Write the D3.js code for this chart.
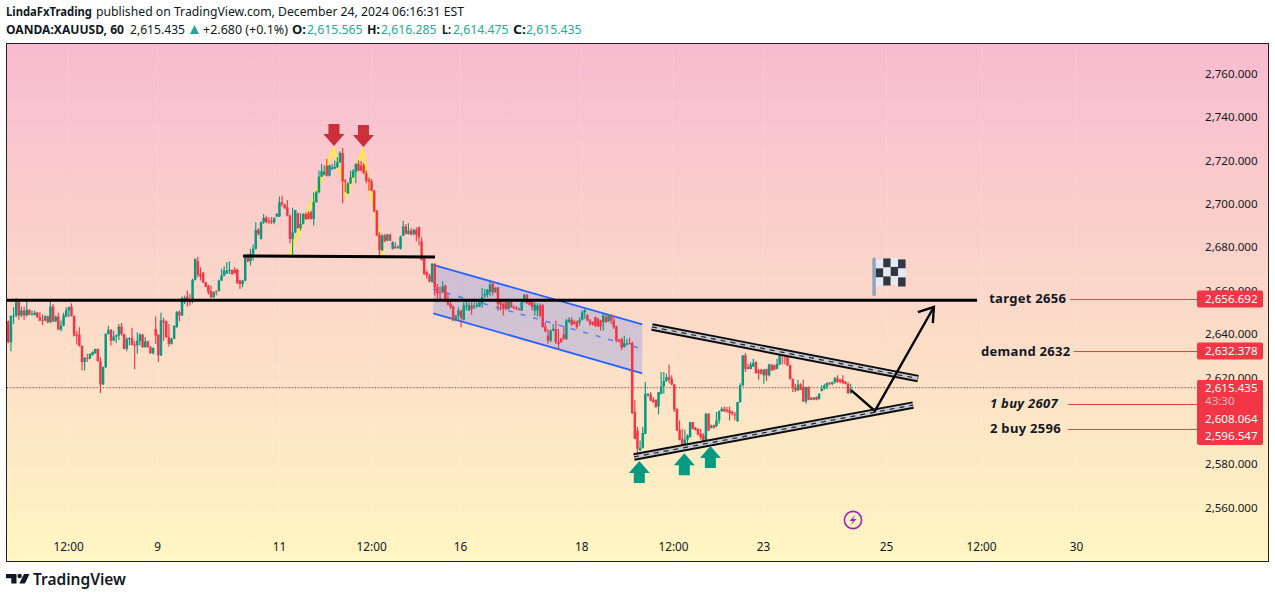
<!DOCTYPE html>
<html><head><meta charset="utf-8">
<script src="https://cdn.jsdelivr.net/npm/d3@7"></script>
<style>html,body{margin:0;padding:0;background:#fff}svg{display:block}text{font-family:"Noto Sans",sans-serif}</style>
</head><body><svg id="c" width="1275" height="598"></svg>
<script>
const opens=[2645.8,2636.2,2648.1,2648.5,2654.6,2648.5,2650.8,2648.5,2651.1,2648.9,2648.8,2649.8,2647.7,2646.5,2646.2,2648,2645.4,2652.6,2645.8,2648,2642,2643.8,2648,2650.8,2652.6,2648.3,2639.4,2639.7,2634.5,2627,2629,2628.6,2630.3,2631.1,2633.1,2627.4,2616.7,2624.7,2640,2641.9,2636.9,2638.8,2639.2,2643.4,2640,2633.1,2637.7,2638,2635.1,2634.8,2636.6,2639.7,2633.9,2636.6,2633.9,2631.1,2642.3,2639.7,2630,2646.2,2645.8,2638.5,2635.4,2637.7,2643.1,2650,2648.5,2654.6,2657.2,2655.4,2655.1,
2664.9,2673.5,2667.6,2668.3,2663.8,2662.3,2659.7,2656.9,2659.7,2659.7,2664.6,2666.9,2667.9,2669.2,2669.5,2669.5,2669.6,2664.6,2663,2664.6,2675.6,2673.5,2676.9,2679.2,2687.9,2683.8,2691.5,2693.5,2692.2,2692,2691.5,2694.1,2694.1,2700.7,2699.6,2698.4,2694.5,2683.8,2686.8,2695.6,2688.8,2690.7,2695.3,2695.6,2696.1,2693,2700.7,2705.3,2712.5,2713.4,2717.6,2712.9,2715.9,2716.2,2716.8,2719.1,2723.4,2710.6,2704.8,2709.4,2712.2,2714.5,2718.3,2717.6,2717.6,2714,2711,2710.3,2706,2696.8,2685.6,2678.7,2685.3,2683,2685.8,2679.2,2680.2,2679.6,2679.2,2685.3,2689.5,2686.1,2687.6,2686.1,2687.9,2689.2,2682.7,2674.6,
2668.4,2666.9,2663.8,2672.3,2661.5,2659.2,2659.2,2662.3,2656.1,2653.8,2652.6,2646.5,2648.5,2650.8,2646.5,2653.1,2650.8,2653.1,2652.4,2652.9,2652.6,2654.1,2657.7,2658,2659.2,2663,2659.2,2661.5,2655.7,2653.8,2654.6,2651.5,2654.6,2652.3,2651.8,2651.4,2650.8,2654.6,2658,2655.1,2654.6,2650.8,2650.8,2653.1,2653.1,2643.4,2639.2,2636.9,2641.5,2642.3,2636.2,2637.7,2639.7,2637.7,2645.4,2646.5,2645.7,2645.7,2645.4,2646.5,2650,2648.5,2646.2,2645.4,2647.7,2646.9,2646.2,2645.4,2647.7,2645.8,2648.5,2646.2,2643.4,2637.2,2637.7,2633.9,2635.2,2635.7,2635.8,
2604,2595.5,2586.3,2587.5,2594,2611.7,2612.1,2609.7,2609.7,2606.6,2612.4,2615.8,2618.3,2620.1,2619.3,2616.7,2605.5,2595.8,2591.7,2587.1,2591.2,2592.5,2599.4,2596.8,2596.3,2594,2593.2,2590.2,2603.2,2596.8,2597.8,2597.4,2600.1,2604.4,2605.5,2605.1,2604.7,2604,2602.9,2599.8,2608.6,2616.3,2630.1,2624.7,2623.9,2625,2627,2623.2,2623.5,2620.9,2623.9,2620.9,2625.9,2625.5,2623.9,2625.9,2631.6,2630.9,2630.1,2625.5,2619.3,2615.5,2614,2616.7,2615.5,2608.9,2615.5,2610.6,2609.7,2610.9,2610.1,2613.7,2614.7,2615.8,2617.3,2617,2617.8,2619.6,2618.9,2618.9,2617.8,2617,2612.7];
const closes=[2636.2,2648.3,2648.5,2654.6,2648.5,2650.8,2648.5,2651.1,2648.9,2649.2,2649.8,2647.7,2646.2,2646.2,2648.3,2645.4,2652.6,2645.8,2648,2642,2643.8,2648.5,2650.8,2652.3,2648.3,2639.2,2639.2,2634.5,2627,2629,2628.6,2630.8,2631.7,2633.1,2627.4,2616.7,2624.7,2640,2641.9,2636.9,2638.8,2639.4,2643.4,2640,2633.1,2637.7,2638,2634.9,2634.8,2636.9,2639.7,2633.9,2636.6,2633.9,2631.1,2633.6,2639.2,2630.2,2646.2,2645.4,2638.5,2635.4,2637.7,2643.8,2650,2648.5,2656.6,2656.6,2655.1,2654.6,2664.9,
2674.6,2667.3,2666.4,2663.8,2661.8,2659.2,2656.9,2659.2,2659.3,2664.6,2666.9,2669.2,2669.2,2669.5,2667.6,2667.9,2663.5,2663,2664.6,2675.6,2673.5,2676.9,2679.2,2687.9,2686.1,2691.5,2693.5,2691.5,2691.8,2691.8,2693.5,2695.3,2700.7,2699.6,2698.1,2694.5,2683.8,2686.8,2697.1,2688.8,2690.7,2695.3,2693,2693,2693,2700.7,2705.3,2712.5,2715,2714.8,2712.9,2717.6,2716.8,2717.1,2719.1,2723.4,2710.3,2710.3,2709.4,2712.2,2715,2718.3,2715.3,2715.3,2714,2710.6,2710.2,2706,2696.5,2685.3,2678.7,2685.3,2682.7,2685.8,2683,2682.2,2679.5,2680.2,2684.8,2689.5,2686.1,2687.6,2685.8,2687.9,2685.6,2684.5,2674.1,2667.6,
2666.9,2664.3,2672.3,2661.5,2658.7,2658.9,2661.8,2655.8,2653.5,2652.3,2646.2,2648.5,2650.8,2647.4,2653.1,2653.4,2653.1,2651.5,2652.8,2653.2,2654.6,2656.9,2658.4,2660.3,2662.7,2659.2,2661.2,2653.8,2653.5,2651.5,2651.5,2654.6,2652.3,2651.8,2651.4,2651.1,2654.6,2658,2654.1,2653.4,2652.3,2653.5,2653.1,2648.5,2643.1,2641.2,2636.9,2641.5,2642.3,2636.2,2635.4,2636.2,2637.7,2646.2,2646.5,2644.3,2644.6,2643.1,2646.5,2650,2650.8,2646.2,2644.6,2644.3,2643.8,2643.4,2643.4,2648.5,2645.4,2648.5,2646.2,2643.1,2636.9,2636.5,2633.6,2635.4,2635.6,2635.4,2603.5,
2591.7,2587.1,2587.5,2594.3,2612.4,2612.4,2609.4,2608.6,2606.3,2613.2,2615.8,2618.3,2620.1,2618.9,2616.7,2605.1,2595.5,2591.2,2587.1,2591.2,2593.2,2599.4,2596.3,2595.8,2593.7,2592.5,2590.2,2603.2,2595.5,2597.8,2596.8,2600.1,2604.4,2605.5,2604.4,2604.4,2603.5,2603.2,2602.4,2608.6,2616.3,2630.1,2623.9,2623.9,2625.9,2626.6,2621.9,2621.9,2621.6,2623.5,2620.9,2625.9,2623.2,2623.5,2626.2,2630.9,2630.1,2629.3,2625.5,2619.3,2615.2,2614,2616.7,2614.3,2608.9,2615.5,2609.7,2609.7,2610.6,2609.7,2612.4,2614.7,2616.3,2617.3,2617,2617.8,2619.6,2617.8,2618,2617.3,2617,2612.7,2614.7];
const highs=[2646.2,2648.5,2652.3,2656.6,2655.1,2652.6,2652.6,2654.8,2651.4,2650.8,2650.8,2650.1,2650,2648.9,2648.5,2648.5,2654.8,2653.8,2648.5,2649.8,2646.2,2649.8,2652.3,2652.6,2654.1,2648.5,2641.5,2643.1,2634.8,2629.3,2630.8,2631.1,2632,2633.2,2633.2,2629.3,2625,2640.3,2643.8,2642.3,2641.5,2639.7,2644.6,2645.1,2640,2638.5,2638.5,2642.8,2636.9,2640.8,2640.3,2640,2638.5,2636.9,2634.5,2633.6,2648,2639.7,2649.8,2647.4,2646.2,2644.6,2638.2,2643.8,2650.5,2650.8,2657.2,2657.7,2660,2658.4,2665.4,
2674.6,2675.6,2670.7,2668.3,2664,2662.6,2662.3,2659.5,2660,2664.9,2670,2671.2,2673,2673.5,2669.6,2670.7,2670,2664.9,2664.9,2676.1,2676.9,2679.2,2681.2,2691.5,2688.8,2691.8,2695.3,2694.5,2693.8,2693.8,2693.5,2695.6,2703.3,2703.7,2699.9,2701.7,2695,2698.1,2697.1,2695.9,2695.6,2695.6,2696.1,2696.5,2696.8,2705.3,2706,2715.3,2718.3,2717.6,2720.6,2718,2718.3,2719.9,2721.4,2724.2,2725.7,2711.4,2709.9,2715.3,2716,2718.6,2719.9,2719.6,2718.6,2715.3,2712.2,2711.4,2706.4,2697.1,2686.8,2686.1,2686.1,2686.1,2686.1,2682.7,2682.2,2680.7,2685.3,2692.2,2690.7,2691,2688.8,2688.4,2689.2,2689.5,2684.5,2675,
2669.2,2667.7,2672.6,2672.6,2663,2661.8,2664.3,2662.7,2658.4,2655.1,2653.1,2648.5,2652.3,2651.1,2654.6,2655.4,2654.6,2654.6,2654.6,2654.6,2654.6,2661.2,2660.7,2660.7,2664.6,2664.3,2661.5,2661.5,2656.1,2654.6,2655.1,2655.1,2655.1,2653.1,2652.8,2652.3,2655.1,2658.4,2658.4,2655.7,2655.1,2654.6,2654.1,2654.1,2653.8,2645.4,2642.3,2642,2644.6,2646.2,2642.3,2638.2,2643.8,2646.9,2647.7,2647.7,2646.5,2646.2,2647.7,2650.8,2651.5,2649.2,2646.9,2645.8,2648,2647.4,2646.5,2649.5,2648.9,2649.2,2648.9,2647.7,2643.8,2637.7,2638.2,2639.2,2637.7,2638.2,2636.5,
2609.4,2597.1,2590.9,2597.1,2617.8,2612.7,2613.2,2610.9,2609.7,2613.2,2622.4,2622.4,2621.6,2625.9,2620.9,2617,2605.5,2600.1,2596.3,2595.8,2593.7,2599.4,2599.4,2597.1,2596.3,2596.3,2594.3,2603.5,2603.5,2598.3,2598.3,2604,2604.7,2606.3,2606.6,2606.3,2606.6,2604.7,2604,2608.6,2617.3,2630.1,2631.2,2626.2,2627,2628.6,2627.5,2623.9,2623.9,2623.8,2623.9,2626.2,2625.9,2625.9,2628.6,2632.4,2632.7,2631.2,2630.4,2625.9,2619.3,2617,2618.9,2617.3,2618.9,2615.8,2615.8,2610.9,2610.9,2611.2,2612.7,2616.3,2617,2617.8,2617.8,2618.1,2620.1,2620.9,2619.3,2620.9,2618.3,2617.8,2617];
const lows=[2635.7,2632,2644.6,2647.7,2646.5,2647.7,2646.5,2648,2648.6,2648.5,2648.5,2647.4,2645.8,2644,2645.8,2644.9,2644.9,2645.4,2645.4,2641.9,2641.2,2643.5,2647.7,2647.7,2648,2638.8,2635.1,2634.2,2623.1,2623.1,2627,2628.3,2629.9,2630.8,2627.4,2612.7,2616.4,2624.3,2639.7,2634.6,2636.6,2635.7,2637.2,2639.2,2632.9,2632,2634.6,2634.6,2623.7,2630.8,2634.6,2633.6,2633.6,2633.6,2630.8,2630.5,2635.4,2627,2630,2636.9,2638.2,2634.2,2635.1,2637.6,2642.8,2645.8,2648.3,2653.8,2652.6,2653.1,2654.1,
2664.6,2666.1,2664.6,2663.5,2661.5,2658.1,2656.6,2656.6,2657.7,2659.7,2664.3,2666.4,2667.6,2667.6,2667.3,2667.9,2663,2660.7,2661.5,2664.3,2673,2671.5,2673.8,2678.9,2685.3,2683.5,2690.7,2691,2690.7,2690.7,2690.7,2693.8,2693.8,2698.7,2697.6,2694.2,2681.8,2675,2686.4,2688.4,2687.6,2690.4,2692.5,2692.7,2692.7,2689.9,2700.4,2704.8,2712.2,2713,2712.5,2712.5,2715.6,2715.9,2716.5,2718.8,2700.2,2705.3,2704.5,2709.1,2711.9,2709.4,2715,2715,2713.7,2709.4,2706,2705.7,2696.1,2685.3,2675,2678.1,2682.2,2682.7,2682.7,2678.9,2679.2,2679.2,2678.9,2685,2685.8,2685.8,2685.3,2685.3,2682.7,2680.7,2673.8,2667.3,
2665.4,2663.8,2663.7,2657.7,2654.6,2655.1,2658.7,2654.6,2653.1,2651.5,2645.8,2645.8,2646.5,2643.1,2646.2,2650.8,2650.5,2648.8,2651.5,2652,2652.3,2652,2656.6,2656.9,2657.4,2657.7,2658.9,2650.5,2650.8,2648.5,2650.8,2651.2,2652,2651.5,2651.1,2650.8,2650.5,2654.3,2653.8,2653.1,2650.8,2648.5,2648,2647.7,2643.1,2640.8,2635.4,2636.2,2641.2,2635.4,2632.6,2635.9,2637.2,2637.2,2645.1,2643.8,2644.3,2642.3,2643.8,2646.2,2646.9,2645.8,2643.8,2643.8,2643.1,2643.1,2641.5,2641.5,2645.1,2645.5,2644.6,2642.3,2636.2,2636.2,2632.6,2633.6,2634.6,2635.1,2603.2,
2591.4,2583.2,2586,2587.2,2593.7,2611.2,2609,2608.3,2606,2602.9,2612.1,2612.4,2618,2617.3,2616.3,2604,2595.2,2590.9,2586.6,2586.6,2589.4,2592.1,2596,2595.5,2593.2,2591.2,2589.7,2589.1,2595.2,2596.4,2596.3,2597.1,2598.6,2604.1,2604,2603.5,2600.1,2602.4,2600.1,2599.4,2608.1,2615.8,2622.4,2623.6,2623.6,2624.7,2621.6,2618.9,2621.3,2617,2618.3,2620.4,2622.9,2623.2,2623.6,2625.6,2625.9,2625.9,2625.2,2618.9,2613.2,2613.2,2613.7,2614,2608.6,2607.8,2609.4,2609.4,2609.4,2609.4,2609.7,2613.5,2614.3,2614.6,2616.3,2616.3,2617,2617.5,2617.3,2617,2616.7,2612.4,2612.4];
const priceTicks=[2760,2740,2720,2700,2680,2660,2640,2620,2600,2580,2560];
const timeTickBars=[22.7,56.5,102.8,137.8,171.6,217.6,252.5,286.7,333.4,369.5,405.6];
const timeTickLabels=["12:00","9","11","12:00","16","18","12:00","23","25","12:00","30"];
const lastPrice=2615.435;
const tagTexts=["2,656.692","2,632.378","2,608.064","2,596.547"];
const tagPrices=[2656.1,2632.1,2607.7,2596.2];
const noteTexts=["target 2656","demand 2632","1 buy 2607","2 buy 2596"];
const noteBars=[372.6,369.5,372.9,372.9];
const noteLineBars=[403.3,404.8,402.6,402.6];
const targetLine=[[-0.5,2655.5],[368,2655.5]];
const neckLine=[[89.2,2675.9],[162.1,2675.4]];
const mPattern=[[106.7,2676.4],[123.7,2725.1],[128.5,2703.5],[134.6,2724.4],[142.4,2676.4]];
const chanTop=[[161.4,2671.8],[240.8,2644.4]];
const chanBottom=[[161.4,2649.5],[240.8,2621.8]];
const chanMid=[[161.4,2660.6],[240.8,2633.1]];
const triUpper=[[244.5,2643.2],[345.6,2619.4]];
const triLower=[[237.7,2583.3],[343.7,2607.2]];
const pathArrow=[[320.1,2614.1],[329.2,2604.5],[351.6,2652.4]];
const arrowHead=[[345.5,2650],[351.6,2652.4],[351.2,2645]];
const redArrows=[[123.7,2726.6],[134.9,2726.1]];
const greenArrows=[[239.7,2581.4],[256.8,2585],[266.7,2588.3]];
const flagBase=[328.2,2657.5];

const svg=d3.select("#c");
const x=d3.scaleLinear().domain([0,320]).range([8.3,850.7]);
const y=d3.scaleLinear().domain([2760,2560]).range([73.5,507.5]);
const line=d3.line().x(d=>x(d[0])).y(d=>y(d[1]));
const defs=svg.append("defs");
const g=defs.append("linearGradient").attr("id","bg").attr("x1",0).attr("x2",0).attr("y1",0).attr("y2",1);
g.append("stop").attr("offset",0).attr("stop-color","#f8bbd0");
g.append("stop").attr("offset",1).attr("stop-color","#fff6c2");
svg.append("rect").attr("x",6.5).attr("y",43.5).attr("width",1262).attr("height",518).attr("fill","url(#bg)").attr("stroke","#1e222d").attr("stroke-width",1);

const head=(t,xp,yp,w,o={})=>svg.append("text").attr("x",xp).attr("y",yp).attr("textLength",w).attr("lengthAdjust","spacingAndGlyphs").attr("font-size",12).attr("font-weight",o.b?700:400).attr("fill",o.c||"#131722").text(t);
head("LindaFxTrading",6,16,86,{b:1});
head("published on TradingView.com, December 24, 2024 06:16:31 EST",96,16,368);
head("OANDA:XAUUSD, 60",6,34,118,{b:1});
head("2,615.435",130,34,55);
svg.append("path").attr("d","M190 34l4.5-9 4.5 9z").attr("fill","#26a69a");
head("+2.680 (+0.1%)",203,34,85);
[["O:",292,14,"2,615.565",307],["H:",367,13,"2,616.285",381],["L:",442,9,"2,614.475",453],["C:",513,13,"2,615.435",526]].forEach(d=>{
  head(d[0],d[1],34,d[2],{b:1});
  head(d[3],d[4],34,55.5,{c:"#22ab94"});
});

const gridColor="rgba(255,255,255,0.10)";
const xAxis=d3.axisBottom(x).tickValues(timeTickBars).tickFormat((d,i)=>timeTickLabels[i]).tickSize(-517).tickPadding(8);
const gx=svg.append("g").attr("transform","translate(0,561)").call(xAxis);
gx.select(".domain").remove();
gx.selectAll("line").attr("stroke",gridColor);
gx.selectAll("text").attr("font-size",11.8).attr("fill","#131722").attr("dy",null).attr("y",-10).attr("style",'font-family:"Noto Sans"');
const yAxis=d3.axisRight(y).tickValues(priceTicks).tickFormat(d=>d3.format(",.3f")(d)).tickSize(0).tickPadding(0);
const gy=svg.append("g").attr("transform","translate(1205,0)").call(yAxis);
gy.select(".domain").remove();
gy.selectAll("text").attr("font-size",11.6).attr("fill","#131722");

const chanPoly=chanTop.concat(chanBottom.slice().reverse());
svg.append("path").attr("d",line(chanPoly)+"Z").attr("fill","#2962ff").attr("fill-opacity",0.2);
[chanTop,chanBottom].forEach(l=>svg.append("path").attr("d",line(l)).attr("stroke","#2962ff").attr("stroke-width",1.8).attr("fill","none"));
svg.append("path").attr("d",line(chanMid)).attr("stroke","#2962ff").attr("stroke-opacity",.7).attr("stroke-width",1.5).attr("stroke-dasharray","5 8").attr("fill","none");

svg.append("path").attr("d",line(mPattern)).attr("stroke","#ffeb3b").attr("stroke-width",2.6).attr("fill","none");

svg.append("line").attr("x1",7).attr("x2",1197).attr("y1",y(lastPrice)+.5).attr("y2",y(lastPrice)+.5).attr("stroke","#f23645").attr("stroke-width",1.2).attr("stroke-dasharray","1.2 2");

const bars=d3.range(opens.length).map(i=>({i,o:opens[i],h:highs[i],l:lows[i],c:closes[i]}));
const col=d=>d.c>=d.o?"#089981":"#f23645";
const cg=svg.append("g");
cg.selectAll("line").data(bars).join("line").attr("x1",d=>x(d.i)).attr("x2",d=>x(d.i)).attr("y1",d=>y(d.h)).attr("y2",d=>y(d.l)).attr("stroke",col).attr("stroke-width",1.15);
cg.selectAll("rect").data(bars).join("rect").attr("x",d=>x(d.i)-1.25).attr("width",2.5).attr("y",d=>y(Math.max(d.o,d.c))).attr("height",d=>Math.max(1,Math.abs(y(d.o)-y(d.c)))).attr("fill",col);

svg.append("path").attr("d",line(targetLine)).attr("stroke","#000").attr("stroke-width",3).attr("fill","none");
svg.append("path").attr("d",line(neckLine)).attr("stroke","#000").attr("stroke-width",3).attr("fill","none");

[triUpper,triLower].forEach(l=>{
  svg.append("path").attr("d",line(l)).attr("stroke","#0c0c10").attr("stroke-width",7.5).attr("fill","none");
  svg.append("path").attr("d",line(l)).attr("stroke","#c8c8d0").attr("stroke-width",3.6).attr("fill","none");
  svg.append("path").attr("d",line(l)).attr("stroke","#222").attr("stroke-width",1.2).attr("stroke-dasharray","5 5").attr("fill","none");
});

svg.append("path").attr("d",line(pathArrow)).attr("stroke","#000").attr("stroke-width",2.4).attr("fill","none");
svg.append("path").attr("d",line(arrowHead)).attr("stroke","#000").attr("stroke-width",2.4).attr("fill","none");

redArrows.forEach(a=>{
  const px=x(a[0]),py=y(a[1]);
  svg.append("path").attr("transform",`translate(${px},${py})`).attr("d","M0 0L-10.5 -12H-5.5V-22H5.5V-12H10.5Z").attr("fill","#cc2f3c");
});
greenArrows.forEach(a=>{
  const px=x(a[0]),py=y(a[1]);
  svg.append("path").attr("transform",`translate(${px},${py})`).attr("d","M0 0L10.5 12H5.5V22H-5.5V12H-10.5Z").attr("fill","#089981");
});

const fx=x(flagBase[0]),fy=y(flagBase[1]);
const flag=svg.append("g").attr("transform",`translate(${fx},${fy})`);
flag.append("rect").attr("x",0).attr("y",-38.5).attr("width",3.6).attr("height",38.5).attr("rx",1.5).attr("fill","#8fa6b6");
d3.range(4).forEach(cl=>d3.range(3).forEach(rw=>{
  const wave=[0.5,-0.5,-1,0.5][cl];
  flag.append("rect").attr("x",3.6+cl*7.4).attr("y",-37+rw*9+wave).attr("width",7.5).attr("height",9.1).attr("fill",(cl+rw)%2==0?"#e3e8f2":"#2f3742");
}));

noteTexts.forEach((t,i)=>{
  const yy=y(tagPrices[i]);
  svg.append("text").attr("x",x(noteBars[i])).attr("y",yy+4.5).attr("font-size",13).attr("font-weight",700).attr("font-style",i==2?"italic":"normal").attr("fill","#131722").attr("letter-spacing",".3").text(t);
  svg.append("line").attr("x1",x(noteLineBars[i])).attr("x2",1197).attr("y1",yy+.5).attr("y2",yy+.5).attr("stroke","#f23645").attr("stroke-width",1);
});

const tag=(y0,h)=>svg.append("rect").attr("x",1197).attr("y",y0).attr("width",66).attr("height",h).attr("rx",2).attr("fill","#f23645");
tag(y(tagPrices[0])-8.5,17);
tag(y(tagPrices[1])-8.5,17);
tag(380,65);
const tagText=(t,yy,c="#fff",xx=1205)=>svg.append("text").attr("x",xx).attr("y",yy).attr("font-size",11.6).attr("fill",c).text(t);
tagText(tagTexts[0],y(tagPrices[0])+4);
tagText(tagTexts[1],y(tagPrices[1])+4);
tagText("2,615.435",392);
tagText("43:30",405,"#fbb4ba");
tagText(tagTexts[2],423);
tagText(tagTexts[3],440);

const lg=svg.append("g").attr("transform","translate(853,520)");
lg.append("circle").attr("r",8.6).attr("fill","none").attr("stroke","#9c27b0").attr("stroke-width",1.6);
lg.append("path").attr("d","M2.5 -5.5L-3.5 1H0L-2.5 5.5L3.5 -1H0Z").attr("fill","#9c27b0");

svg.append("path").attr("d","M6 574h10.5v9.5h-5.2v-5.2H6z").attr("fill","#131722");
svg.append("circle").attr("cx",19.6).attr("cy",576).attr("r",2.2).attr("fill","#131722");
svg.append("path").attr("d","M24 574h5.5l-4.6 9.5h-5.6z").attr("fill","#131722");
svg.append("text").attr("x",33).attr("y",585).attr("font-size",16).attr("font-weight",600).attr("textLength",93).attr("lengthAdjust","spacingAndGlyphs").attr("fill","#131722").text("TradingView");
</script></body></html>
